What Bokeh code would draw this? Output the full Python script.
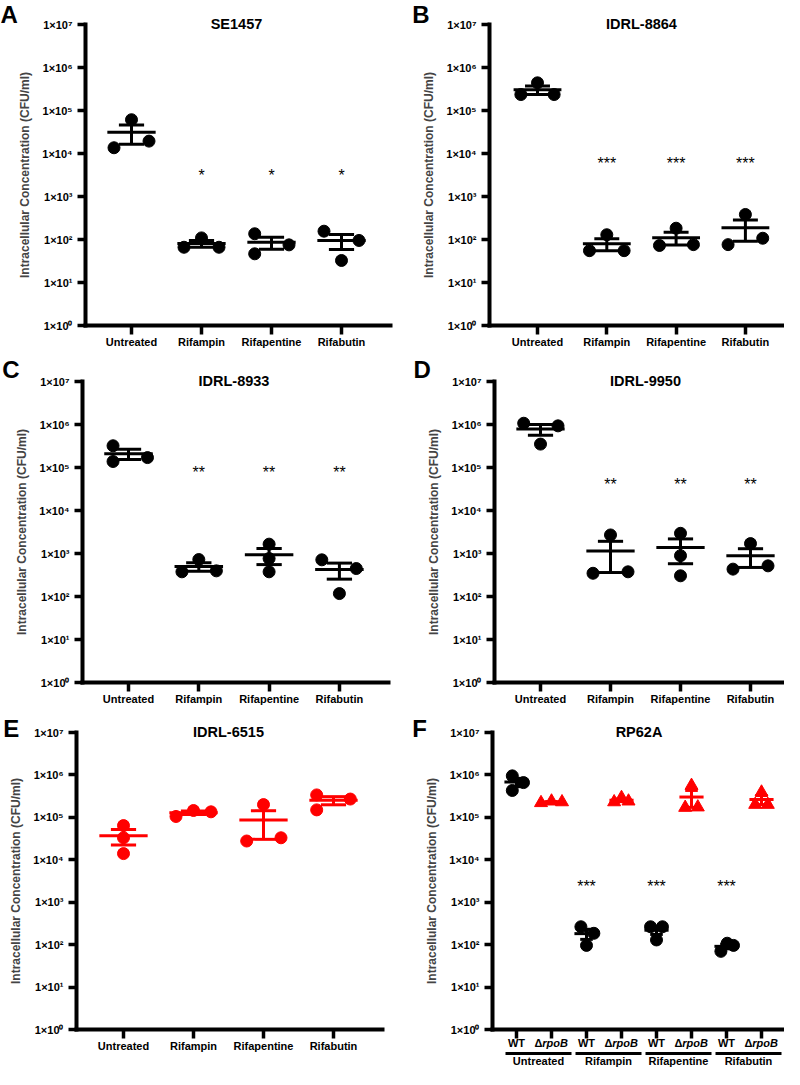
import numpy as np
from bokeh.plotting import figure
from bokeh.models import FixedTicker, Range1d
from bokeh.layouts import column, row
from bokeh.embed import file_html
from bokeh.resources import INLINE
from bokeh.core.properties import value

FONT = "Liberation Sans"
BLACK = "#000000"
RED = "#FF0000"

# ---------------- data ----------------
categories = ["Untreated", "Rifampin", "Rifapentine", "Rifabutin"]

se1457 = [[6.1e4, 1.36e4, 1.94e4], [66, 109, 66], [136, 46.5, 75], [156, 95, 32.5]]
se1457_jit = [[0, -0.25, 0.25], [-0.25, 0, 0.25], [-0.24, -0.24, 0.25], [-0.25, 0.25, 0]]
se1457_sig = ["", "*", "*", "*"]
se1457_sig_y = 3.7e3

idrl8864 = [[4.4e5, 2.35e5, 2.35e5], [129, 55, 55], [183, 72.5, 76], [382, 76, 107]]
idrl8864_jit = [[0, -0.24, 0.24], [0, -0.25, 0.25], [0, -0.24, 0.25], [0, -0.25, 0.25]]
idrl8864_sig = ["", "***", "***", "***"]
idrl8864_sig_y = 6.9e3

idrl8933 = [[3.2e5, 1.38e5, 1.7e5], [724, 375, 395], [1650, 763, 375], [713, 447, 117]]
idrl8933_jit = [[-0.22, -0.22, 0.27], [0, -0.24, 0.25], [0, 0, 0], [-0.25, 0.24, 0]]
idrl8933_sig = ["", "**", "**", "**"]
idrl8933_sig_y = 8.9e4

idrl9950 = [[1.07e6, 9.3e5, 3.5e5], [2700, 347, 375], [2950, 890, 303], [1700, 433, 516]]
idrl9950_jit = [[-0.24, 0.25, 0], [0, -0.25, 0.25], [0, 0, 0], [0, -0.25, 0.25]]
idrl9950_sig = ["", "**", "**", "**"]
idrl9950_sig_y = 4.7e4

idrl6515 = [[6.4e4, 3.3e4, 1.4e4], [1.05e5, 1.45e5, 1.35e5], [2.0e5, 2.77e4, 3.3e4], [3.38e5, 1.5e5, 2.7e5]]
idrl6515_jit = [[0, 0, 0], [-0.25, 0, 0.25], [0, -0.24, 0.25], [-0.24, -0.24, 0.24]]

rp62a_wt = [[9.5e5, 4.3e5, 6.6e5], [264, 185, 96], [264, 264, 129], [69.5, 108, 96]]
rp62a_wt_jit = [[-0.12, -0.12, 0.2], [-0.16, 0.21, 0], [-0.17, 0.17, 0], [-0.16, 0.02, 0.2]]
rp62a_rpob = [[2.2e5, 2.4e5, 2.3e5], [2.3e5, 2.9e5, 2.4e5], [5.6e5, 1.7e5, 1.74e5], [3.9e5, 2.0e5, 2.0e5]]
rp62a_rpob_jit = [[-0.3, 0, 0.3], [-0.21, 0, 0.2], [0, -0.18, 0.18], [0, -0.18, 0.18]]
rp62a_sig = ["***", "***", "***"]
rp62a_sig_y = 2.8e3
strains = ["WT", "rpoB"]

SUP = str.maketrans("0123456789", "⁰¹²³⁴⁵⁶⁷⁸⁹")
y_ticks = [10 ** k for k in range(8)]
y_labels = {10 ** k: "1×10" + str(k).translate(SUP) for k in range(8)}

# ------------- layout (picture px): ox, oy, W, H, L, R, T, B, c0, unit -------------
GEOM = {
    "A": (0, 0, 400, 356, 85, 390, 24, 325, 131, 70.0),
    "B": (400, 0, 384, 356, 489, 784, 24, 325, 537, 69.3),
    "C": (0, 356, 400, 356, 82, 388, 381, 682, 128, 70.3),
    "D": (400, 356, 384, 356, 494, 784, 381, 682, 540, 70.0),
    "E": (0, 712, 400, 357, 76, 382, 732, 1029, 123, 70.0),
    "F": (400, 712, 384, 357, 492, 784, 732, 1029, 516, 35.0),
}
# letter: left x and baseline y, both local px
LETTER_POS = {"A": (0, 23.3), "B": (11.7, 23.3), "C": (1.7, 22.7), "D": (13, 22.7),
              "E": (2.7, 26), "F": (11.7, 26)}

MEAN_HW = 0.345
CAP_HW = 0.18
BASE_SHIFT = 0.4   # rendered baseline lands this many em lower than asked


class Panel:
    def __init__(self, key, title, tick_labels):
        ox, oy, W, H, L, R, T, B, c0, u = GEOM[key]
        self.u = u
        self.dec = (B - T) / 7.0
        self.x0 = (ox - c0) / u
        self.top_log = 7 + (T - oy) / self.dec
        self.B_local = B - oy
        xs, xe = (L - c0) / u, (R - c0) / u
        p = figure(width=W, height=H,
                   x_range=Range1d(self.x0, (ox + W - c0) / u),
                   y_range=Range1d(10 ** (-(oy + H - B) / self.dec), 10 ** self.top_log),
                   y_axis_type="log", output_backend="svg", toolbar_location=None, title=None,
                   min_border=0, min_border_left=0, min_border_right=0,
                   min_border_top=0, min_border_bottom=0)
        p.xgrid.visible = False
        p.ygrid.visible = False
        p.outline_line_color = None
        p.background_fill_color = "white"
        p.border_fill_color = "white"

        ya = p.yaxis[0]
        ya.fixed_location = xs
        ya.bounds = (1, 1e7)
        ya.ticker = FixedTicker(ticks=y_ticks, minor_ticks=[])
        ya.major_label_overrides = y_labels
        ya.axis_label = "Intracellular Concentration (CFU/ml)"
        ya.axis_label_text_font = FONT
        ya.axis_label_text_font_style = "bold"
        ya.axis_label_text_font_size = "12px"
        ya.axis_label_standoff = 7
        ya.major_tick_out = 8
        ya.major_label_standoff = 5

        xa = p.xaxis[0]
        xa.fixed_location = 1
        xa.bounds = (xs, xe)
        n = len(tick_labels)
        xa.ticker = FixedTicker(ticks=list(range(n)), minor_ticks=[])
        xa.major_label_overrides = {i: t for i, t in enumerate(tick_labels)}
        xa.major_tick_out = 9
        xa.major_label_standoff = 1

        for ax in (xa, ya):
            ax.axis_line_width = 4
            ax.axis_line_color = BLACK
            ax.axis_line_cap = "square"
            ax.major_tick_line_width = 3.5
            ax.major_tick_line_color = BLACK
            ax.major_tick_in = 0
            ax.minor_tick_line_color = None
            ax.major_label_text_font = FONT
            ax.major_label_text_font_style = "bold"
            ax.major_label_text_font_size = "11px"
            ax.major_label_text_color = BLACK
        self.p = p

        # title: baseline a few px under the 1e7 level
        self.label([(n - 1) / 2.0], [T - oy + 5], [title], 14.5, "bold", "center")
        lx, ly = LETTER_POS[key]
        self.label([self.x0 + lx / u], [ly], [key], 24, "bold", "left")

    def ydata(self, local_y):
        return 10 ** (self.top_log - local_y / self.dec)

    def dy(self, px_down):
        return 10 ** (-px_down / self.dec)

    def label(self, xs, base_local_y, texts, fs, style, align):
        ys = [self.ydata(b - BASE_SHIFT * fs) for b in base_local_y]
        self.p.text(xs, ys, text=texts, text_font=value(FONT), text_font_size=f"{fs}px",
                    text_font_style=style, text_align=align, text_baseline="alphabetic",
                    text_color=BLACK)

    def group(self, pos, vals, jit, color, marker="circle", size=12):
        p = self.p
        vals = np.asarray(vals, dtype=float)
        p.scatter([pos + j for j in jit], list(vals), marker=marker, size=size,
                  fill_color=color, line_color=color)
        m = vals.mean()
        s = vals.std(ddof=1) / np.sqrt(len(vals))
        x0 = [pos - MEAN_HW, pos, pos - CAP_HW, pos - CAP_HW]
        x1 = [pos + MEAN_HW, pos, pos + CAP_HW, pos + CAP_HW]
        y0 = [m, m - s, m + s, m - s]
        y1 = [m, m + s, m + s, m - s]
        p.segment(x0, y0, x1, y1, line_width=3, line_color=color)

    def stars(self, xs, labels, y):
        # asterisk centre sits ~9.4 px above its baseline at 16 px
        fs = 16
        ys = [y * self.dy(9.4 - BASE_SHIFT * fs)] * len(xs)
        self.p.text(xs, ys, text=labels, text_font=value(FONT), text_font_size=f"{fs}px",
                    text_align="center", text_baseline="alphabetic", text_color=BLACK)


figs = {}
panels = [
    ("A", "SE1457", se1457, se1457_jit, se1457_sig, se1457_sig_y, BLACK),
    ("B", "IDRL-8864", idrl8864, idrl8864_jit, idrl8864_sig, idrl8864_sig_y, BLACK),
    ("C", "IDRL-8933", idrl8933, idrl8933_jit, idrl8933_sig, idrl8933_sig_y, BLACK),
    ("D", "IDRL-9950", idrl9950, idrl9950_jit, idrl9950_sig, idrl9950_sig_y, BLACK),
    ("E", "IDRL-6515", idrl6515, idrl6515_jit, None, None, RED),
]
for key, title, data, jit, sig, sig_y, color in panels:
    pan = Panel(key, title, categories)
    for i, (vals, jj) in enumerate(zip(data, jit)):
        pan.group(i, vals, jj, color)
    if sig:
        xs = [i for i, s in enumerate(sig) if s]
        pan.stars(xs, [s for s in sig if s], sig_y)
    figs[key] = pan.p

# Panel F
F = Panel("F", "RP62A", [""] * 8)
for i in range(4):
    F.group(2 * i, rp62a_wt[i], rp62a_wt_jit[i], BLACK)
    F.group(2 * i + 1, rp62a_rpob[i], rp62a_rpob_jit[i], RED, marker="triangle", size=13)
F.stars([2, 4, 6], rp62a_sig, rp62a_sig_y)

wt_x = [2 * i for i in range(4)]
mu_x = [2 * i + 1 for i in range(4)]
split = [x - 9.2 / F.u for x in mu_x]
sub_base = F.B_local + 18
F.label(wt_x, [sub_base] * 4, [strains[0]] * 4, 11, "bold", "center")
F.label(split, [sub_base] * 4, ["Δ"] * 4, 11, "bold", "right")
F.label(split, [sub_base] * 4, [strains[1]] * 4, 11, "bold italic", "left")
line_y = F.ydata(F.B_local + 24)
F.p.segment([x - 11 / F.u for x in wt_x], [line_y] * 4,
            [x + 1 + 20 / F.u for x in wt_x], [line_y] * 4, line_width=3, line_color=BLACK)
F.label([x + 0.5 + 4.5 / F.u for x in wt_x], [F.B_local + 36] * 4, categories, 11, "bold", "center")
figs["F"] = F.p

layout = column(row(figs["A"], figs["B"]), row(figs["C"], figs["D"]), row(figs["E"], figs["F"]))
open("out.html", "w").write(file_html(layout, INLINE))
